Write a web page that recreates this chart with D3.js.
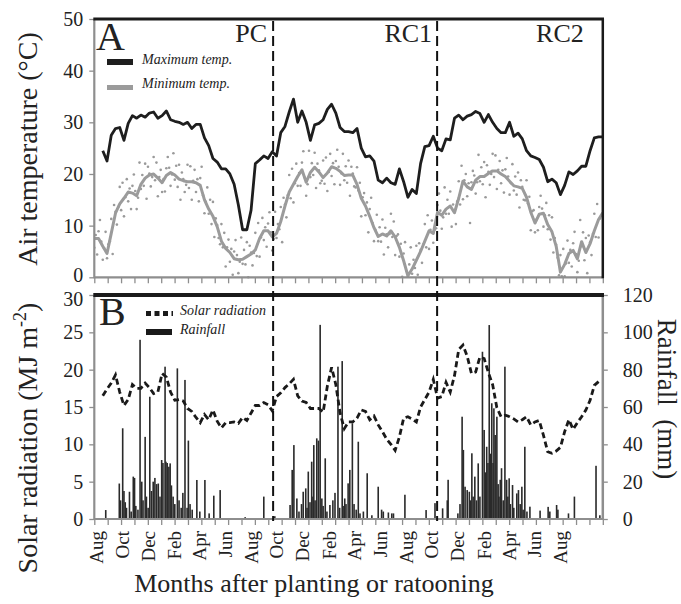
<!DOCTYPE html>
<html><head><meta charset="utf-8">
<script src="https://cdn.jsdelivr.net/npm/d3@7"></script>
<style>
body{margin:0;background:#fff}
svg{display:block}
text{font-family:"Liberation Serif","Times New Roman",serif;fill:#222}
</style>
</head><body><svg id="c" width="681" height="604"></svg>
<script>
// ---------------- DATA ----------------
const startDate = new Date(2010, 6, 27);   // axis start (days counted from here)
const spanDays = 1200;
const stepDays = 10;                        // sampling step of the line series

// Daily maximum air temperature (smoothed), one value per 10 days (°C)
const maxTemp = [null,null,24.5,22.5,27.5,28.8,29.0,26.5,29.8,31.3,
 30.8,31.4,31.0,31.8,32.0,30.8,31.3,32.2,30.5,30.2,
 30.0,29.6,30.0,28.8,29.6,29.6,27.0,25.5,23.0,22.3,
 21.0,21.0,20.0,18.0,14.0,9.2,9.2,13.0,22.0,22.7,
 23.5,23.0,24.3,23.5,28.0,29.2,32.0,34.5,30.0,32.2,
 30.0,26.5,29.5,29.8,30.5,32.5,33.5,31.8,29.0,28.2,
 28.2,28.0,28.8,25.0,23.3,23.5,22.5,18.8,18.3,19.2,
 18.3,18.0,21.0,18.5,15.5,17.0,16.2,22.0,25.3,25.5,
 27.3,25.0,24.5,26.8,26.6,30.8,31.4,30.5,31.2,31.5,
 32.1,31.7,30.0,31.5,30.0,28.8,28.0,28.0,30.0,27.3,
 27.9,26.8,24.5,23.5,23.2,22.8,21.3,18.5,19.0,18.3,
 16.0,17.8,20.4,19.9,20.6,21.5,21.5,24.5,27.0,27.2,27.2];

// Minimum air temperature, smoothed line (°C)
const minTempLine = [7.5,7.5,6.0,4.6,8.5,12.4,14.2,15.3,16.5,16.3,
 15.8,18.0,19.2,19.8,20.0,19.2,18.3,19.7,20.3,19.8,
 19.0,18.7,18.5,18.5,18.3,17.8,15.0,13.2,11.8,9.8,
 7.0,5.6,4.8,3.6,3.4,3.5,4.0,4.5,5.3,7.5,
 9.0,9.0,7.8,8.5,10.8,13.8,16.5,18.0,19.5,20.8,
 18.4,20.3,21.3,20.4,19.3,20.2,21.4,21.1,20.5,19.7,
 19.8,19.8,18.0,15.3,13.8,11.8,9.6,7.9,8.4,8.0,
 9.0,7.8,5.8,3.2,0.3,1.6,3.3,5.0,7.0,9.0,
 8.5,12.6,12.0,13.2,13.8,12.5,15.3,18.6,17.5,17.0,
 18.8,19.5,19.5,20.1,20.6,20.6,20.0,19.5,18.6,17.7,
 17.5,17.2,15.5,12.6,10.5,12.2,12.4,10.2,8.8,6.0,
 1.0,2.5,4.6,5.2,3.6,6.9,4.8,6.5,9.0,11.2,12.5];

// Daily minimum temperature observations (°C), three per 10-day window
const minTempDots = [
 [11.5,5.7,8.2],[4.4,8.9,11.1],[6.9,3.4,5.6],[8.8,3.7,6.4],[7.0,11.3,4.5],
 [14.0,12.7,10.2],[13.6,17.5,13.0],[18.3,11.8,15.5],[19.0,14.7,17.2],[13.2,17.7,19.9],
 [16.7,13.2,15.4],[22.2,17.1,19.8],[17.7,22.0,15.2],[21.4,20.1,17.6],[19.4,23.3,18.8],
 [22.2,15.7,19.4],[20.8,16.5,19.0],[16.6,21.1,23.3],[21.2,17.7,19.9],[24.0,18.9,21.6],
 [17.5,21.8,15.0],[20.3,19.0,16.5],[17.9,21.8,17.3],[21.5,15.0,18.7],[20.8,16.5,19.0],
 [14.7,19.2,21.4],[15.9,12.4,14.6],[17.4,12.3,15.0],[10.3,14.6,7.8],[11.4,10.1,7.6],
 [6.4,10.3,5.8],[8.6,2.1,5.8],[7.3,3.0,5.5],[0.5,5.0,7.2],[4.3,0.8,3.0],
 [7.7,2.6,5.3],[2.5,6.8,0.0],[6.1,4.8,2.3],[4.7,8.6,4.1],[10.5,4.0,7.7],
 [11.5,7.2,9.7],[5.9,10.4,12.6],[8.7,5.2,7.4],[12.7,7.6,10.3],[9.3,13.6,6.8],
 [15.4,14.1,11.6],[15.9,19.8,15.3],[21.0,14.5,18.2],[22.0,17.7,20.2],[17.7,22.2,24.4],
 [19.3,15.8,18.0],[24.5,19.4,22.1],[19.8,24.1,17.3],[22.0,20.7,18.2],[18.7,22.6,18.1],
 [23.2,16.7,20.4],[23.9,19.6,22.1],[18.0,22.5,24.7],[21.4,17.9,20.1],[23.9,18.8,21.5],
 [18.3,22.6,15.8],[21.4,20.1,17.6],[17.4,21.3,16.8],[18.3,11.8,15.5],[16.3,12.0,14.5],
 [8.7,13.2,15.4],[10.5,7.0,9.2],[12.1,7.0,9.7],[6.9,11.2,4.4],[9.6,8.3,5.8],
 [8.4,12.3,7.8],[10.8,4.3,8.0],[8.3,4.0,6.5],[0.1,4.6,6.8],[1.2,0.1,2.5],
 [5.8,0.7,3.4],[1.8,6.1,0.5],[6.6,5.3,2.8],[6.4,10.3,5.8],[12.0,5.5,9.2],
 [11.0,6.7,9.2],[9.5,14.0,16.2],[12.9,9.4,11.6],[17.4,12.3,15.0],[12.3,16.6,9.8],
 [14.1,12.8,10.3],[14.7,18.6,14.1],[21.6,15.1,18.8],[20.0,15.7,18.2],[10.5,18.4,20.6],
 [19.7,16.2,18.4],[23.7,18.6,21.3],[18.0,22.3,15.5],[21.7,20.4,17.9],[20.0,23.9,19.4],
 [23.6,17.1,20.8],[22.5,18.2,20.7],[16.4,20.9,23.1],[19.5,16.0,18.2],[21.9,16.8,19.5],
 [16.0,20.3,13.5],[18.8,17.5,15.0],[14.9,18.8,14.3],[15.6,9.1,12.8],[13.0,8.7,11.2],
 [9.1,13.6,15.8],[13.3,9.8,12.0],[14.4,9.3,12.0],[7.3,11.6,4.8],[7.6,6.3,3.8],
 [0.4,4.3,0.2],[5.5,0.2,2.7],[7.1,2.8,5.3],[2.1,6.6,8.8],[4.5,1.0,3.2],
 [11.1,6.0,8.7],[3.3,7.6,0.8],[8.1,6.8,4.3],[8.4,12.3,7.8],[14.2,7.7,11.4]];

// Solar radiation (MJ m-2), one value per 10 days
const solarRad = [null,null,16.5,17.4,18.2,19.3,17.0,15.2,16.0,18.0,
 17.5,17.5,18.2,17.6,16.8,17.0,19.5,19.0,17.0,15.9,
 16.0,15.8,14.8,14.4,13.6,12.9,14.0,13.3,14.6,13.1,
 12.2,12.9,12.9,13.0,12.8,13.6,13.2,14.2,15.2,15.2,
 15.6,15.3,14.5,16.4,16.9,17.6,18.1,18.7,16.5,15.8,
 15.6,14.8,14.8,14.8,14.3,17.8,20.3,18.0,14.2,12.1,
 13.0,13.0,13.5,14.6,14.4,13.3,13.8,12.6,11.7,10.7,
 10.0,9.2,11.0,13.5,13.7,13.4,13.0,15.0,16.0,17.0,
 18.7,16.2,16.4,18.3,17.0,19.2,22.7,23.3,21.8,19.5,
 19.7,21.7,21.5,19.6,18.0,14.9,13.7,13.9,13.7,13.4,
 13.0,13.3,13.7,12.6,13.0,13.2,11.2,9.0,8.8,9.1,
 9.6,11.7,13.3,12.0,12.9,13.7,14.6,15.9,17.9,18.4,null];

// Daily rainfall events [day, mm]
const rainfall = [
 [27,4.8],[59,19],[62,10],[67,48.6],[70,15],[73,9],[76,6],[83,14.6],[87,4],[92,22.7],
 [95,22],[98,7],[103,5],[108,96],[112,20],[115,10],[120,44],[123,12],[127,6],[131,65.5],
 [135,15],[139,20],[143,22],[147,18.7],[151,19],[155,12],[159,31.6],[162,30],[167,81.6],[169,30.7],
 [172,30],[176,28],[179,29.8],[182,18],[186,12],[190,8],[196,80.7],[200,10],[205,6],[209,14],
 [214,74.5],[219,6],[222,42],[226,8],[231,5],[242,20.9],[249,4],[261,20.9],[271,3],[282,12.5],
 [297,15.5],[356,1],[400,12],[426,1.5],
 [462,7.5],[467,26.3],[471,39.6],[478,11],[483,4],[489,8],[493,14.6],[499,16.4],[502,6],[505,25.4],
 [509,9],[513,30.7],[516,12],[518,39.6],[521,10],[525,43.2],[529,42],[533,104],[537,11],[540,7],
 [545,32.5],[549,4],[556,7.5],[563,10],[568,14],[575,81.6],[579,6],[585,84.6],[589,7],[591,11],
 [594,8],[599,19.1],[603,26.3],[609,51.3],[613,8],[618,5],[623,41.4],[627,3],[635,4],[644,24.5],
 [655,2],[670,17.3],[678,5],[682,4],[694,3.5],[702,3],[706,3],[733,13],[783,4.8],[804,8.5],
 [822,5.7],[833,10],[835,21],
 [858,3],[863,8],[868,54.8],[871,37],[875,17.3],[880,15.5],[885,14.6],[888,10],[891,35.2],[894,12],
 [898,22.7],[902,10],[906,29.8],[910,12],[916,89.6],[920,47.7],[923,25],[926,38.7],[929,30],[932,103.9],
 [935,35],[938,62],[941,30],[943,59.3],[946,45],[950,54.8],[953,18.7],[955,12],[958,21],[961,27.2],
 [965,10],[969,81.6],[973,21],[976,12],[979,21.8],[982,8],[987,18.2],[990,6],[997,13.7],[1001,15.5],
 [1005,8],[1009,17.3],[1012,5],[1016,38.7],[1021,4],[1028,6.6],[1052,4.5],[1071,6.5],[1075,4],[1091,7.5],
 [1094,5],[1119,3],[1133,12],[1184,28.5],[1193,2]];

const phaseBounds = [422, 809];           // days of ratooning
const phaseLabels = ["PC", "RC1", "RC2"];
const monthLabels = ["Aug","Oct","Dec","Feb","Apr","Jun","Aug","Oct","Dec","Feb","Apr","Jun",
                     "Aug","Oct","Dec","Feb","Apr","Jun","Aug"];
const firstLabelMonth = new Date(2010, 7, 1);
const tempTicks = [0,10,20,30,40,50];
const solarTicks = [0,5,10,15,20,25,30];
const rainTicks = [0,20,40,60,80,100,120];
const xTickIntervals = 38;

// ---------------- CHART ----------------
const svg = d3.select("#c");
const L = 94.3, R = 602.8, aTop = 19, aBot = 277.3, bTop = 295, bBot = 519;
const gray = "#8e8e8e";
const dayToDate = d => new Date(startDate.getTime() + d * 864e5);

const x = d3.scaleTime().domain([startDate, dayToDate(spanDays)]).range([L, R]);
const yT = d3.scaleLinear().domain([0, 50]).range([aBot, aTop]);
const yS = d3.scaleLinear().domain([0, 30]).range([bBot, bTop]);
const yR = d3.scaleLinear().domain([0, 120]).range([bBot, bTop]);

const defs = svg.append("defs");
defs.append("clipPath").attr("id", "clipA").append("rect")
  .attr("x", L).attr("y", aTop).attr("width", R - L).attr("height", aBot - aTop + 3);
defs.append("clipPath").attr("id", "clipB").append("rect")
  .attr("x", L).attr("y", bTop).attr("width", R - L).attr("height", bBot - bTop);

// ---- Panel A marks
const gA = svg.append("g").attr("clip-path", "url(#clipA)");
const dots = minTempDots.flatMap((row, i) => row.map((v, k) => ({day: i * stepDays + (k - 1) * 3.33, v})));
gA.selectAll("circle").data(dots).join("circle")
  .attr("cx", d => x(dayToDate(d.day))).attr("cy", d => yT(d.v))
  .attr("r", 1.3).attr("fill", "#9a9a9a");

const lineT = d3.line().defined(d => d != null)
  .x((d, i) => x(dayToDate(i * stepDays))).y(d => yT(d));
gA.append("path").datum(minTempLine).attr("d", lineT)
  .attr("fill", "none").attr("stroke", "#9b9b9b").attr("stroke-width", 3).attr("stroke-linejoin", "round");
gA.append("path").datum(maxTemp).attr("d", lineT)
  .attr("fill", "none").attr("stroke", "#1e1e1e").attr("stroke-width", 2.8).attr("stroke-linejoin", "round");

// ---- Panel B marks
const gB = svg.append("g").attr("clip-path", "url(#clipB)");
gB.selectAll("rect").data(rainfall).join("rect")
  .attr("x", d => x(dayToDate(d[0])) - 0.8).attr("width", 1.6)
  .attr("y", d => yR(d[1])).attr("height", d => bBot - yR(d[1]))
  .attr("fill", "#2a2a2a");
const lineS = d3.line().defined(d => d != null)
  .x((d, i) => x(dayToDate(i * stepDays))).y(d => yS(d));
gB.append("path").datum(solarRad).attr("d", lineS)
  .attr("fill", "none").attr("stroke", "#1a1a1a").attr("stroke-width", 2.8)
  .attr("stroke-dasharray", "6,3.5");

// ---- Axes
function styleAxis(g, size) {
  g.select(".domain").remove();
  g.selectAll(".tick line").attr("stroke", gray).attr("stroke-width", 1.3);
  g.selectAll(".tick text").attr("font-family", "Liberation Serif, serif")
    .attr("font-size", size).attr("fill", "#222");
}
svg.append("g").attr("transform", `translate(${L},0)`)
  .call(d3.axisLeft(yT).tickValues(tempTicks).tickSize(5).tickPadding(6))
  .call(g => styleAxis(g, 20))
  .call(g => g.selectAll(".tick text").filter(d => d === 0).attr("dy", "0.2em"));
svg.append("g").attr("transform", `translate(${L},0)`)
  .call(d3.axisLeft(yS).tickValues(solarTicks).tickSize(5).tickPadding(6))
  .call(g => styleAxis(g, 20))
  .call(g => g.selectAll(".tick text").filter(d => d === 30).attr("dy", "0.5em"));
svg.append("g").attr("transform", `translate(${R},0)`)
  .call(d3.axisRight(yR).tickValues(rainTicks).tickSize(5).tickPadding(15))
  .call(g => styleAxis(g, 20));

const minorTicks = d3.range(0, xTickIntervals + 1).map(k => dayToDate(k * spanDays / xTickIntervals));
[aBot, bBot].forEach(yy => {
  svg.append("g").attr("transform", `translate(0,${yy})`)
    .call(d3.axisBottom(x).tickValues(minorTicks).tickSize(6).tickFormat(""))
    .call(g => styleAxis(g, 10));
});

// month labels
const labelDates = monthLabels.map((m, i) => d3.timeMonth.offset(firstLabelMonth, 2 * i));
svg.append("g").selectAll("text").data(labelDates).join("text")
  .attr("transform", d => `translate(${x(d)},531) rotate(-90)`)
  .attr("text-anchor", "end").attr("dy", "0.34em")
  .attr("font-size", 19)
  .text((d, i) => monthLabels[i]);

// ---- Frames
function hline(x1, x2, y, c, w) { svg.append("line").attr("x1", x1).attr("x2", x2).attr("y1", y).attr("y2", y).attr("stroke", c).attr("stroke-width", w); }
function vline(xx, y1, y2, c, w) { svg.append("line").attr("x1", xx).attr("x2", xx).attr("y1", y1).attr("y2", y2).attr("stroke", c).attr("stroke-width", w); }
vline(L, aTop, aBot + 1, gray, 2.2);
hline(L, R, aBot, gray, 2.2);
hline(L - 1, R + 1.2, aTop, "#1a1a1a", 3);
vline(R, aTop, aBot + 1, "#1a1a1a", 2.5);
vline(L, bTop, bBot + 1, gray, 2.2);
hline(L, R, bBot, gray, 2.2);
vline(R, bTop, bBot + 1, gray, 2.5);
hline(L - 1, R + 1.2, bTop, "#1a1a1a", 4);

// ---- Phase boundaries
svg.append("g").selectAll("line").data(phaseBounds).join("line")
  .attr("x1", d => x(dayToDate(d))).attr("x2", d => x(dayToDate(d)))
  .attr("y1", aTop + 2).attr("y2", bBot + 2)
  .attr("stroke", "#111").attr("stroke-width", 2).attr("stroke-dasharray", "10,5");
const phaseLabelX = [x(dayToDate(phaseBounds[0])) - 6, x(dayToDate(phaseBounds[1])) - 5, R - 19];
svg.append("g").selectAll("text").data(phaseLabels).join("text")
  .attr("x", (d, i) => phaseLabelX[i]).attr("y", 42)
  .attr("text-anchor", "end").attr("font-size", 26).text(d => d);

// ---- Panel letters
svg.append("text").attr("x", 96).attr("y", 50).attr("font-size", 40).text("A");
svg.append("text").attr("x", 99).attr("y", 325).attr("font-size", 40).text("B");

// ---- Legends
svg.append("rect").attr("x", 107).attr("y", 59).attr("width", 26).attr("height", 6).attr("fill", "#1e1e1e");
svg.append("text").attr("x", 142).attr("y", 64).attr("font-size", 14).attr("font-style", "italic").text("Maximum temp.");
svg.append("rect").attr("x", 107).attr("y", 85).attr("width", 26).attr("height", 5).attr("fill", "#9b9b9b");
svg.append("text").attr("x", 142).attr("y", 88).attr("font-size", 14).attr("font-style", "italic").text("Minimum temp.");
svg.append("line").attr("x1", 146).attr("x2", 173).attr("y1", 313.5).attr("y2", 313.5)
  .attr("stroke", "#1a1a1a").attr("stroke-width", 5).attr("stroke-dasharray", "5,3.5");
svg.append("text").attr("x", 180).attr("y", 315).attr("font-size", 14).attr("font-style", "italic").text("Solar radiation");
svg.append("rect").attr("x", 146).attr("y", 329).attr("width", 26).attr("height", 6).attr("fill", "#1a1a1a");
svg.append("text").attr("x", 180).attr("y", 334).attr("font-size", 14).attr("font-style", "italic").text("Rainfall");

// ---- Axis titles
svg.append("text").attr("transform", "translate(37,149) rotate(-90)")
  .attr("text-anchor", "middle").attr("font-size", 28).text("Air temperature (°C)");
const st = svg.append("text").attr("transform", "translate(37,438) rotate(-90)")
  .attr("text-anchor", "middle").attr("font-size", 28);
st.append("tspan").text("Solar radiation (MJ m");
st.append("tspan").attr("font-size", 18).attr("dy", "-0.6em").text("-2");
st.append("tspan").attr("dy", "0.4em").text(")");
svg.append("text").attr("transform", "translate(658,399) rotate(90)")
  .attr("text-anchor", "middle").attr("font-size", 27).style("white-space", "pre").text("Rainfall  (mm)");
svg.append("text").attr("x", 314).attr("y", 592)
  .attr("text-anchor", "middle").attr("font-size", 26).text("Months after planting or ratooning");
</script>
</body></html>
